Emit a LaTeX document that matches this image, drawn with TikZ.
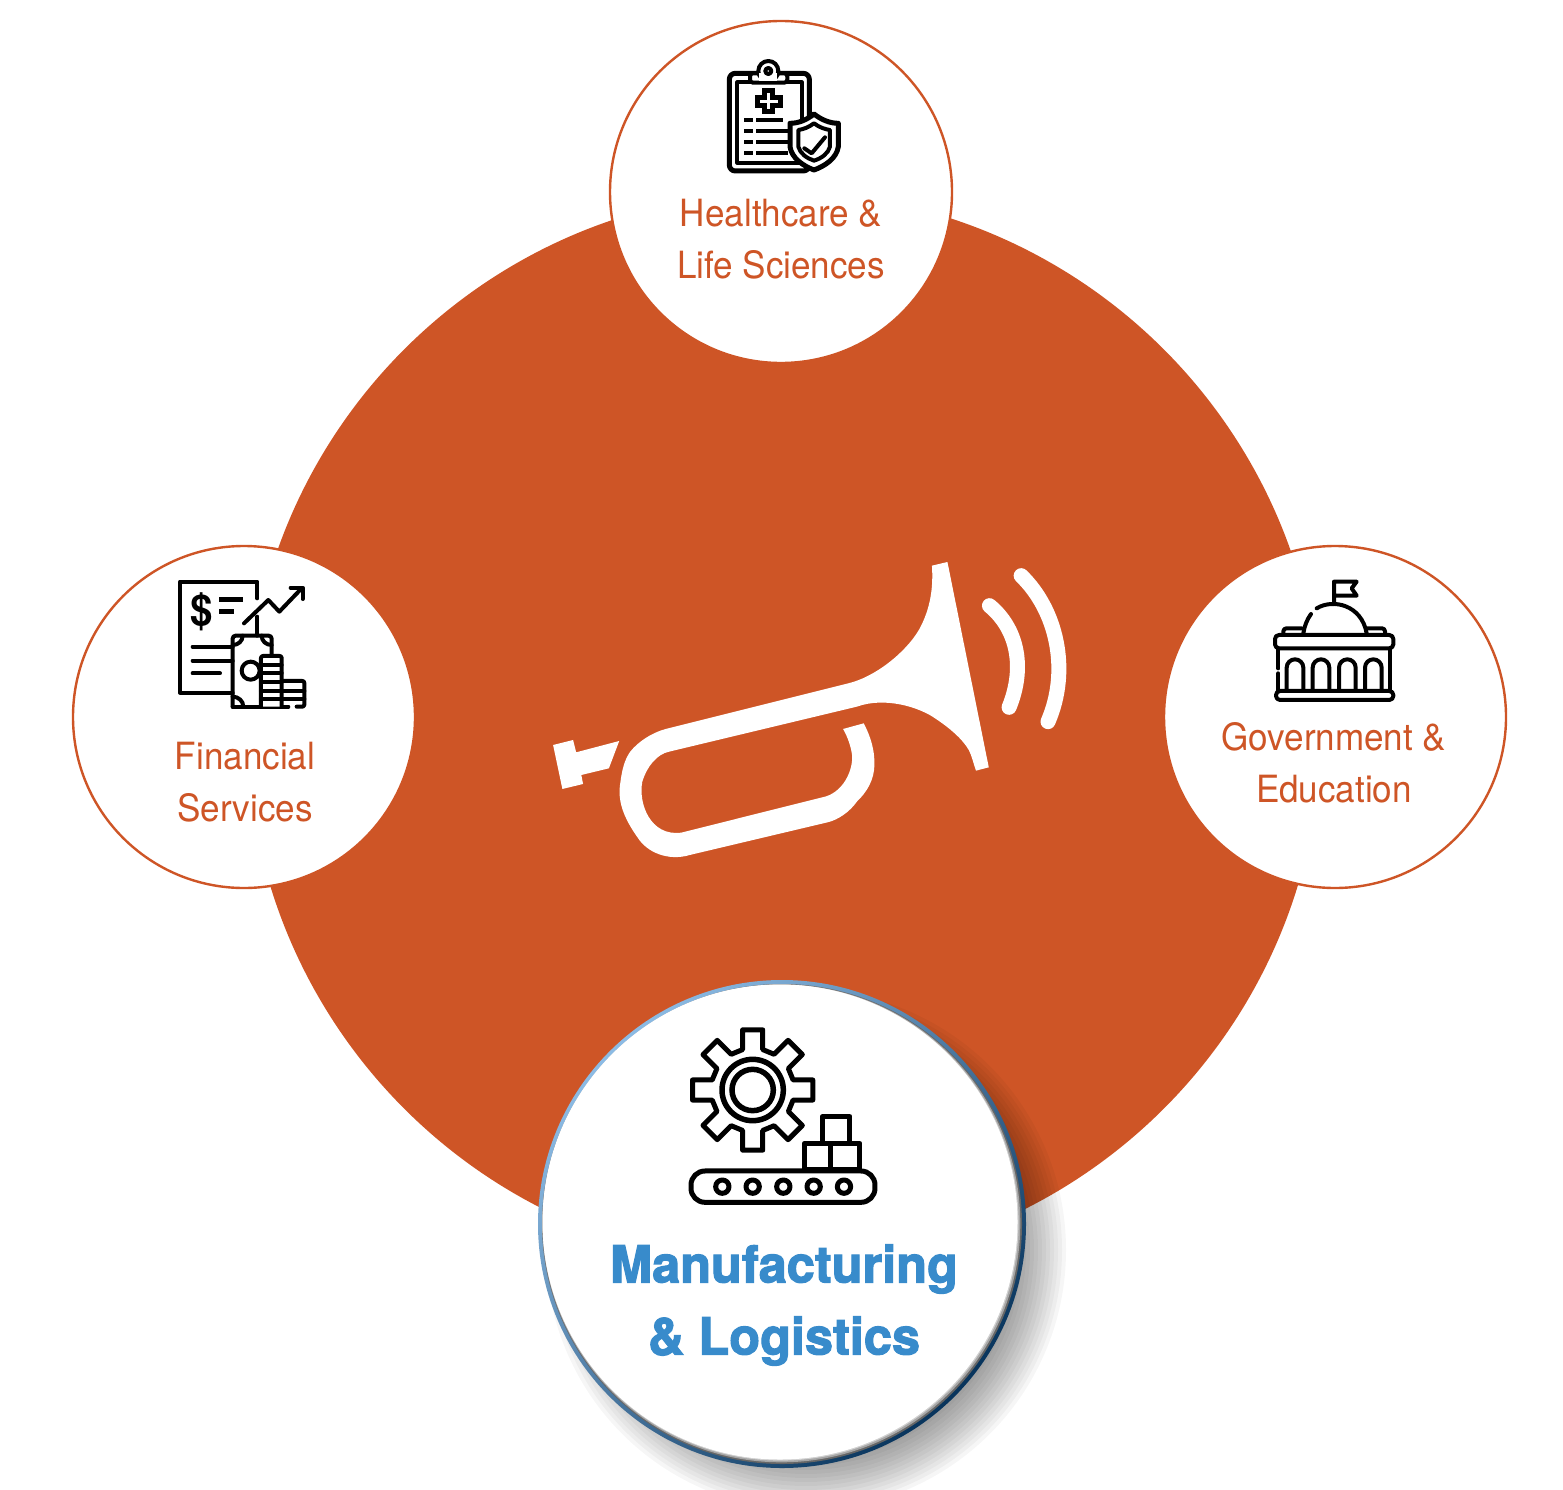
\documentclass[tikz,border=0pt]{standalone}
\usepackage{fontspec}
\setmainfont{TeX Gyre Heros}[FakeStretch=.935]
\newfontfamily\heavyfont{TeX Gyre Heros}[BoldFeatures={FakeBold=2.2,FakeStretch=.99}]
\usepackage{tikz}
\usetikzlibrary{positioning}
\definecolor{rust}{RGB}{206,85,38}
\definecolor{mfgblue}{RGB}{56,139,203}
\definecolor{mfglight}{RGB}{140,187,228}
\definecolor{mfgnavy}{RGB}{8,52,92}
\tikzset{
  sector/.style={draw=rust,line width=2.4pt,fill=white,circle,minimum size=342pt,inner sep=0pt},
  sectorlabel/.style={text=rust,align=center,font=\fontsize{37.5}{52}\selectfont},
  icon/.style={line width=4pt,line join=round,line cap=round},
  iconbold/.style={line width=5pt,line join=round,line cap=round}
}
\begin{document}
\begin{tikzpicture}[x=1pt,y=-1pt]
  \useasboundingbox (0,0) rectangle (1563,1490);
  % Main disc
  \node[circle,fill=rust,minimum size=1074pt,inner sep=0pt] (disc) at (784,729) {};

  % Horn
  \begin{scope}[shift={(540,550)},x=.3444pt,y=-.3333pt]
    \fill[white] (38,585) -- (96,570) -- (105,607) -- (230,573) -- (200,655) -- (120,675) -- (125,702) -- (65,717) -- cycle;
    \fill[white] (1138,47) -- (1183,36) -- (1303,652) -- (1266,662)
      .. controls (1258,640) and (1255,620) .. (1245,600)
      .. controls (1225,565) and (1190,535) .. (1150,507)
      .. controls (1100,470) and (1000,440) .. (920,470)
      -- (375,605)
      .. controls (340,612) and (310,650) .. (297,695)
      .. controls (285,760) and (320,860) .. (410,848)
      -- (820,742)
      .. controls (880,730) and (910,660) .. (906,615)
      .. controls (903,590) and (893,560) .. (880,537)
      -- (940,520)
      .. controls (960,560) and (972,600) .. (971,645)
      .. controls (970,690) and (950,725) .. (920,755)
      .. controls (900,785) and (865,810) .. (835,817)
      -- (435,915)
      .. controls (370,935) and (310,905) .. (285,865)
      .. controls (240,800) and (225,750) .. (233,700)
      .. controls (238,660) and (245,630) .. (262,605)
      .. controls (285,575) and (325,548) .. (365,537)
      -- (895,400)
      .. controls (970,382) and (1060,310) .. (1100,240)
      .. controls (1135,175) and (1142,110) .. (1138,47) -- cycle;
    \draw[white,line width=15pt,line cap=round] (1305,167) .. controls (1385,235) and (1410,350) .. (1362,472);
    \draw[white,line width=15pt,line cap=round] (1397,77) .. controls (1500,180) and (1540,360) .. (1475,515);
  \end{scope}

  % Sector circles
  \node[sector] (health) at (781,192) {};
  \node[sector] (finance) at (244,717) {};
  \node[sector] (gov) at (1335,717) {};
  \node[sectorlabel] (healthlabel) at (781,239) {Healthcare \&\\Life Sciences};
  \node[sectorlabel] (financelabel) at (245,782) {Financial\\Services};
  \node[sectorlabel] (govlabel) at (1334,763) {Government \&\\Education};

  % Healthcare icon
  \begin{scope}[shift={(700,40)},x=.3333pt,y=-.3333pt]
    \draw[iconbold,rounded corners=6pt] (88,100) rectangle (328,393);
    \draw[icon] (112,127) rectangle (305,368);
    \draw[icon,fill=white,rounded corners=3pt] (150,128) -- (150,100) -- (262,100) -- (262,128) -- cycle;
    \draw[icon,fill=white] (205,93) circle[radius=30];
    \fill[white] (178,100) rectangle (232,123);
    \draw[icon] (205,93) circle[radius=9];
    \draw[iconbold,line join=miter] (193,153) -- (217,153) -- (217,172) -- (240,172) -- (240,196) -- (217,196) -- (217,215) -- (193,215) -- (193,196) -- (172,196) -- (172,172) -- (193,172) -- cycle;
    \foreach \y/\e in {240/250,273/265,306/265,340/265} {
      \draw[icon,line cap=butt] (133,\y) -- (158,\y);
      \draw[icon,line cap=butt] (168,\y) -- (\e,\y);
    }
    \draw[iconbold,fill=white] (342,222) .. controls (365,240) and (390,250) .. (415,250) -- (415,320) .. controls (410,355) and (375,378) .. (342,390) .. controls (310,378) and (275,355) .. (270,320) -- (270,250) .. controls (295,250) and (320,240) .. (342,222) -- cycle;
    \draw[icon] (342,250) .. controls (358,262) and (375,268) .. (390,270) -- (390,320) .. controls (385,340) and (365,355) .. (342,362) .. controls (320,355) and (300,340) .. (295,320) -- (295,270) .. controls (310,268) and (326,262) .. (342,250) -- cycle;
    \draw[icon] (313,325) -- (335,340) -- (375,292);
  \end{scope}

  % Financial icon
  \begin{scope}[shift={(160,565)},x=.3333pt,y=-.3333pt]
    \draw[icon] (292,100) -- (292,50) -- (60,50) -- (60,383) -- (218,383);
    \draw[icon] (292,155) -- (292,212);
    \node[font=\fontsize{43}{43}\selectfont\bfseries,inner sep=0pt] (dollar) at (125,140) {\$};
    \draw[iconbold,line cap=butt] (178,102) -- (250,102);
    \draw[iconbold,line cap=butt] (178,140) -- (222,140);
    \draw[icon] (252,175) -- (325,105) -- (358,140) -- (425,70);
    \draw[icon] (392,68) -- (428,68) -- (428,102);
    \draw[icon] (98,245) -- (218,245);
    \draw[icon] (98,287) -- (218,287);
    \draw[icon] (98,325) -- (180,325);
    \draw[icon,rounded corners=3pt] (218,425) -- (218,212) -- (335,212) -- (335,273);
    \draw[icon] (218,240) .. controls (235,240) and (248,228) .. (248,212);
    \draw[icon] (305,212) .. controls (305,228) and (318,240) .. (335,240);
    \draw[icon] (218,395) .. controls (235,395) and (250,408) .. (250,425);
    \draw[icon] (218,425) -- (385,425);
    \draw[icon] (272,317) circle[radius=27];
    \draw[icon,fill=white,rounded corners=2pt] (303,425) -- (303,273) -- (365,273) -- (365,425);
    \foreach \y in {300,325,352,378,402} {
      \draw[icon] (303,\y) -- (365,\y);
    }
    \draw[icon,rounded corners=2pt] (365,348) -- (433,348) -- (433,425) -- (410,425);
    \draw[icon] (365,378) -- (433,378);
    \draw[icon] (365,402) -- (433,402);
  \end{scope}

  % Government icon
  \begin{scope}[shift={(1250,565)},x=.3333pt,y=-.3333pt]
    \draw[icon] (252,115) -- (252,50) -- (320,50) -- (305,70) -- (320,92) -- (252,92);
    \draw[icon] (160,205) .. controls (163,185) and (170,165) .. (183,147);
    \draw[icon] (200,130) .. controls (250,100) and (335,120) .. (350,205);
    \draw[icon,rounded corners=3pt] (100,207) -- (100,190) -- (155,190);
    \draw[icon,rounded corners=3pt] (352,190) -- (405,190) -- (405,207);
    \draw[icon,rounded corners=4pt] (75,210) rectangle (430,250);
    \draw[icon] (85,250) -- (85,310);
    \draw[icon] (85,325) -- (85,378);
    \draw[icon] (420,250) -- (420,378);
    \foreach \x in {135,213,292,370} {
      \draw[icon] (\x-25,375) -- (\x-25,308) arc[start angle=180,end angle=360,radius=25] -- (\x+25,375);
    }
    \draw[icon,rounded corners=4pt] (78,378) rectangle (430,405);
  \end{scope}

  % Highlighted sector
  \foreach \r in {208,212,...,262} {
    \fill[black,opacity=.034] (806,1250) circle[radius=\r];
  }
  \node[circle,minimum size=488pt,inner sep=0pt,shading=axis,left color=mfglight,right color=mfgnavy,shading angle=45] (mfg) at (782,1224) {};
  \foreach \d/\g in {0/60,1/35,2/18,3/7} {
    \fill[black!\g] (782-.7*\d,1224-.7*\d) circle[radius=240-\d];
  }
  \node[circle,fill=white,minimum size=475pt,inner sep=0pt] (mfginner) at (780,1222) {};
  \node[text=mfgblue,align=center,font=\heavyfont\bfseries\fontsize{51}{72}\selectfont] (mfglabel) at (784,1305) {Manufacturing\\\& Logistics};

  % Manufacturing icon
  \begin{scope}[shift={(670,1015)},x=.3333pt,y=-.3333pt]
    \begin{scope}[shift={(248,225)}]
      \draw[iconbold] (-14:125) \foreach \a in {0,45,...,315} { -- (\a-14:125) -- (\a-9.5:183) -- (\a+9.5:183) -- (\a+14:125) } -- cycle;
      \draw[line width=5.5pt] (0,0) circle[radius=92];
      \draw[line width=5.5pt] (0,0) circle[radius=62];
    \end{scope}
    \draw[iconbold] (457,385) rectangle (540,305);
    \draw[iconbold] (403,465) rectangle (483,385);
    \draw[iconbold] (483,465) rectangle (570,385);
    \draw[iconbold,fill=white,rounded corners=14pt] (63,468) rectangle (615,562);
    \foreach \x in {157,248,340,431,522} {
      \draw[iconbold] (\x,515) circle[radius=20];
    }
  \end{scope}
\end{tikzpicture}
\end{document}
